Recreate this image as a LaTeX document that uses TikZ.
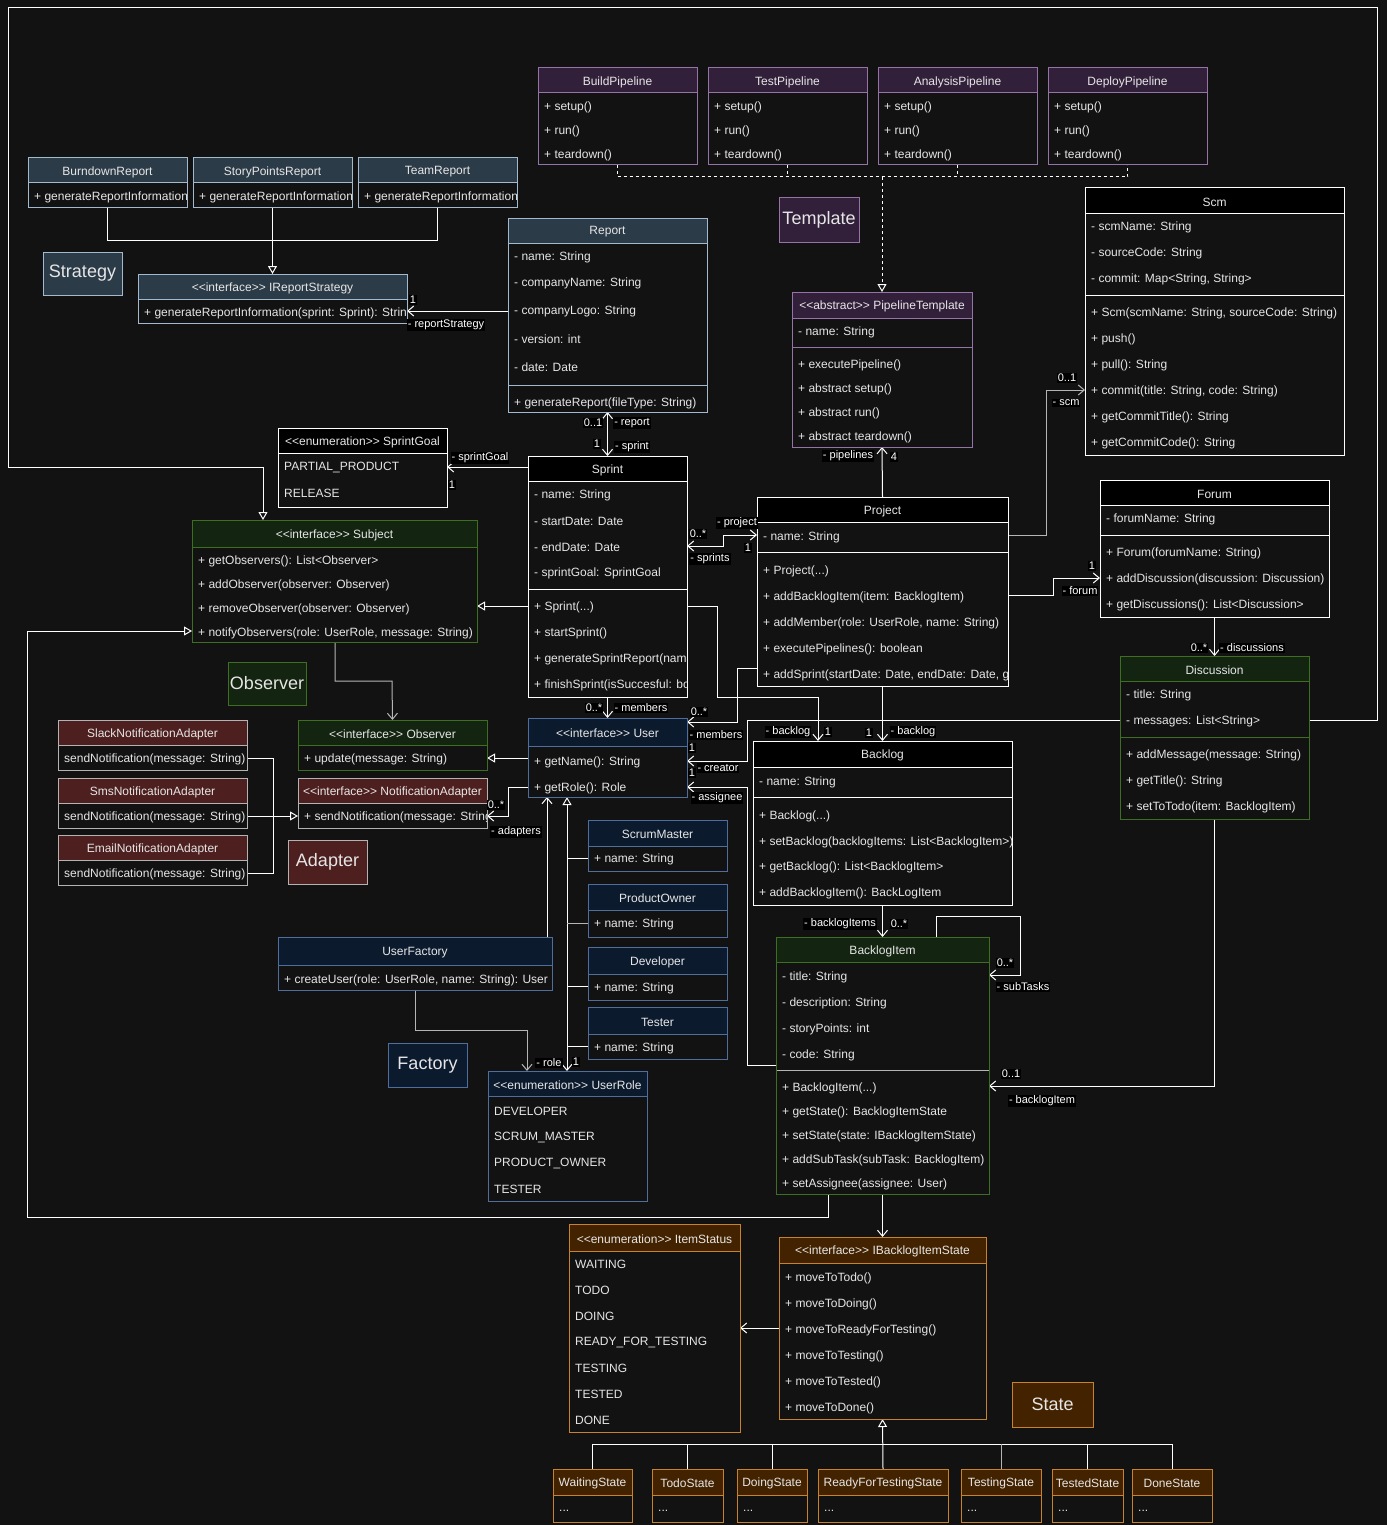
\documentclass[tikz,border=0pt]{standalone}
\usepackage{fontspec}
\setmainfont{Liberation Sans}[Ligatures=TeXOff]
\usetikzlibrary{arrows.meta}
\pgfdeclarelayer{bg}
\pgfdeclarelayer{edges}
\pgfsetlayers{bg,edges,main}
\definecolor{bgc}{HTML}{121212}
\definecolor{txt}{HTML}{E6E6E6}
\definecolor{blkH}{HTML}{000000}\definecolor{blkS}{HTML}{FFFFFF}
\definecolor{stH}{HTML}{2C3B48}\definecolor{stS}{HTML}{A3B9CE}
\definecolor{tpH}{HTML}{32203B}\definecolor{tpS}{HTML}{9673A6}
\definecolor{obH}{HTML}{132411}\definecolor{obS}{HTML}{3E6E22}
\definecolor{adH}{HTML}{4E1F1F}\definecolor{adS}{HTML}{B3B3B3}
\definecolor{faH}{HTML}{0C1A2E}\definecolor{faS}{HTML}{4F6E9C}
\definecolor{saH}{HTML}{432200}\definecolor{saS}{HTML}{C7822B}
\definecolor{gline}{HTML}{B5B5B5}
\tikzset{
 rowtext/.style={font=\fontsize{12}{14}\selectfont, text=txt, inner sep=0pt, anchor=west},
 ttl/.style={font=\fontsize{12}{14}\selectfont, text=txt, inner sep=0pt},
 lbl/.style={font=\fontsize{11}{13}\selectfont, fill=black, text=white, inner sep=1pt},
 plabel/.style={font=\fontsize{18}{20}\selectfont, text=txt, line width=1pt, inner sep=0pt},
 conn/.style={draw=white, line width=1pt},
 assoc/.style={conn, -{Straight Barb[length=6pt,width=10pt]}},
 assocb/.style={conn, {Straight Barb[length=6pt,width=10pt]}-{Straight Barb[length=6pt,width=10pt]}},
 real/.style={conn, -{Triangle[open,length=8pt,width=9pt]}},
 dsh/.style={conn, dash pattern=on 3pt off 3pt},
}
% #1 name #2 style #3 x #4 y #5 w #6 h #7 header h #8 title #9 rows
\newcommand{\ucls}[9]{%
  \def\ux{#3}\def\uw{#5}\def\usc{#2S}%
  \fill[bgc] (#3,#4) rectangle ++(#5,#6);
  \fill[fill=#2H] (#3,#4) rectangle ++(#5,#7);
  \draw[draw=#2S, line width=1pt] (#3,#4+#7) -- ++(#5,0);
  \node[ttl] at (#3+#5/2,#4+#7/2+1.5) {#8};
  \begin{scope}
    \clip (#3,#4) rectangle ++(#5,#6);
    #9
  \end{scope}
  \node[draw=#2S, line width=1pt, minimum width=#5pt, minimum height=#6pt, inner sep=0pt, outer sep=0pt, anchor=north west] (#1) at (#3,#4) {};
}
\newcommand{\urow}[2]{\node[rowtext] at (\ux+6,#1+1.5) {#2};}
\newcommand{\usep}[1]{\draw[draw=\usc, line width=1pt] (\ux,#1) -- ++(\uw,0);}
\begin{document}
\begin{tikzpicture}[x=1pt,y=-1pt]
\useasboundingbox (0,0) rectangle (1387,1525);
\begin{pgfonlayer}{bg}
\fill[bgc] (0,0) rectangle (1387,1525);
\end{pgfonlayer}

% ---------------- Template
\ucls{bp}{tp}{538}{68}{159}{97}{25}{BuildPipeline}{\urow{106}{+ setup()}\urow{130}{+ run()}\urow{154}{+ teardown()}}
\ucls{tpl}{tp}{708}{68}{159}{97}{25}{TestPipeline}{\urow{106}{+ setup()}\urow{130}{+ run()}\urow{154}{+ teardown()}}
\ucls{ap}{tp}{878}{68}{159}{97}{25}{AnalysisPipeline}{\urow{106}{+ setup()}\urow{130}{+ run()}\urow{154}{+ teardown()}}
\ucls{dp}{tp}{1048}{68}{159}{97}{25}{DeployPipeline}{\urow{106}{+ setup()}\urow{130}{+ run()}\urow{154}{+ teardown()}}
\ucls{pt}{tp}{792}{292}{180}{155}{26}{<<abstract>> PipelineTemplate}{\urow{331}{- name: String}\usep{347}\urow{364}{+ executePipeline()}\urow{388}{+ abstract setup()}\urow{412}{+ abstract run()}\urow{436}{+ abstract teardown()}}
\node[plabel, draw=tpS, fill=tpH, minimum width=80pt, minimum height=44pt] (tmplLbl) at (819,220) {Template};

% ---------------- Strategy
\ucls{burn}{st}{28}{158}{159}{49}{25}{BurndownReport}{\urow{196}{+ generateReportInformation}}
\ucls{story}{st}{193}{158}{159}{49}{25}{StoryPointsReport}{\urow{196}{+ generateReportInformation}}
\ucls{team}{st}{358}{158}{159}{49}{25}{TeamReport}{\urow{196}{+ generateReportInformation}}
\ucls{irs}{st}{138}{274}{269}{49}{25}{<<interface>> IReportStrategy}{\urow{312}{+ generateReportInformation(sprint: Sprint): String}}
\ucls{report}{st}{508}{218}{199}{194}{25}{Report}{\urow{256}{- name: String}\urow{282}{- companyName: String}\urow{310}{- companyLogo: String}\urow{338}{- version: int}\urow{366}{- date: Date}\usep{385}\urow{402}{+ generateReport(fileType: String)}}
\node[plabel, draw=stS, fill=stH, minimum width=79pt, minimum height=43pt] (stratLbl) at (82.5,273.5) {Strategy};

% ---------------- Scm / Project / Forum / Discussion
\ucls{scm}{blk}{1085}{188}{259}{267}{25}{Scm}{\urow{226}{- scmName: String}\urow{252}{- sourceCode: String}\urow{278}{- commit: Map<String, String>}\usep{295}\urow{312}{+ Scm(scmName: String, sourceCode: String)}\urow{338}{+ push()}\urow{364}{+ pull(): String}\urow{390}{+ commit(title: String, code: String)}\urow{416}{+ getCommitTitle(): String}\urow{442}{+ getCommitCode(): String}}
\ucls{project}{blk}{757}{497}{251}{189}{25}{Project}{\urow{536}{- name: String}\usep{552}\urow{570}{+ Project(...)}\urow{596}{+ addBacklogItem(item: BacklogItem)}\urow{622}{+ addMember(role: UserRole, name: String)}\urow{648}{+ executePipelines(): boolean}\urow{674}{+ addSprint(startDate: Date, endDate: Date, g}}
\ucls{forum}{blk}{1100}{480}{229}{137}{25}{Forum}{\urow{518}{- forumName: String}\usep{535}\urow{552}{+ Forum(forumName: String)}\urow{578}{+ addDiscussion(discussion: Discussion)}\urow{604}{+ getDiscussions(): List<Discussion>}}
\ucls{disc}{ob}{1120}{656}{189}{163}{25}{Discussion}{\urow{694}{- title: String}\urow{720}{- messages: List<String>}\usep{737}\urow{754}{+ addMessage(message: String)}\urow{780}{+ getTitle(): String}\urow{806}{+ setToTodo(item: BacklogItem)}}

% ---------------- Sprint
\ucls{sprint}{blk}{528}{456}{159}{241}{25}{Sprint}{\urow{494}{- name: String}\urow{520}{- startDate: Date}\urow{546}{- endDate: Date}\urow{572}{- sprintGoal: SprintGoal}\usep{589}\urow{606}{+ Sprint(...)}\urow{632}{+ startSprint()}\urow{658}{+ generateSprintReport(name}\urow{684}{+ finishSprint(isSuccesful: bo}}
\ucls{sg}{blk}{278}{428}{169}{79}{25}{<<enumeration>> SprintGoal}{\urow{466}{PARTIAL\_PRODUCT}\urow{492}{RELEASE}}

% ---------------- Observer
\ucls{subject}{ob}{192}{520}{285}{122}{27}{<<interface>> Subject}{\urow{560}{+ getObservers(): List<Observer>}\urow{584}{+ addObserver(observer: Observer)}\urow{608}{+ removeObserver(observer: Observer)}\urow{632}{+ notifyObservers(role: UserRole, message: String)}}
\ucls{observer}{ob}{298}{720}{189}{50}{25}{<<interface>> Observer}{\urow{758}{+ update(message: String)}}
\node[plabel, draw=obS, fill=obH, minimum width=78pt, minimum height=43pt] (obsLbl) at (267,683.5) {Observer};

% ---------------- Adapter
\ucls{na}{ad}{298}{778}{189}{50}{25}{<<interface>> NotificationAdapter}{\urow{816}{+ sendNotification(message: String)}}
\ucls{slack}{ad}{58}{720}{189}{50}{25}{SlackNotificationAdapter}{\urow{758}{sendNotification(message: String)}}
\ucls{sms}{ad}{58}{778}{189}{50}{25}{SmsNotificationAdapter}{\urow{816}{sendNotification(message: String)}}
\ucls{email}{ad}{58}{835}{189}{50}{25}{EmailNotificationAdapter}{\urow{873}{sendNotification(message: String)}}
\node[plabel, draw=adS, fill=adH, minimum width=79pt, minimum height=44pt] (adLbl) at (327.5,862) {Adapter};

% ---------------- Factory
\ucls{user}{fa}{528}{718}{159}{79}{28}{<<interface>> User}{\urow{761}{+ getName(): String}\urow{787}{+ getRole(): Role}}
\ucls{sm}{fa}{588}{820}{139}{51}{26}{ScrumMaster}{\urow{858}{+ name: String}}
\ucls{po}{fa}{588}{884}{139}{53}{26}{ProductOwner}{\urow{923}{+ name: String}}
\ucls{dev}{fa}{588}{947}{139}{53}{27}{Developer}{\urow{987}{+ name: String}}
\ucls{tester}{fa}{588}{1007}{139}{52}{27}{Tester}{\urow{1047}{+ name: String}}
\ucls{uf}{fa}{278}{937}{274}{53}{28}{UserFactory}{\urow{979}{+ createUser(role: UserRole, name: String): User}}
\ucls{ur}{fa}{488}{1071}{159}{130}{25}{<<enumeration>> UserRole}{\urow{1110}{DEVELOPER}\urow{1136}{SCRUM\_MASTER}\urow{1162}{PRODUCT\_OWNER}\urow{1188}{TESTER}}
\node[plabel, draw=faS, fill=faH, minimum width=79pt, minimum height=44pt] (faLbl) at (427.5,1065) {Factory};

% ---------------- Backlog
\ucls{backlog}{blk}{753}{741}{259}{164}{26}{Backlog}{\urow{781}{- name: String}\usep{797}\urow{815}{+ Backlog(...)}\urow{841}{+ setBacklog(backlogItems: List<BacklogItem>)}\urow{866}{+ getBacklog(): List<BacklogItem>}\urow{892}{+ addBacklogItem(): BackLogItem}}
\ucls{bi}{ob}{776}{937}{213}{257}{25}{BacklogItem}{\urow{976}{- title: String}\urow{1002}{- description: String}\urow{1028}{- storyPoints: int}\urow{1054}{- code: String}\draw[draw=gline, line width=1pt] (776,1070) -- ++(213,0);\urow{1087}{+ BacklogItem(...)}\urow{1111}{+ getState(): BacklogItemState}\urow{1135}{+ setState(state: IBacklogItemState)}\urow{1159}{+ addSubTask(subTask: BacklogItem)}\urow{1183}{+ setAssignee(assignee: User)}}

% ---------------- State
\ucls{is}{sa}{569}{1224}{171}{208}{27}{<<enumeration>> ItemStatus}{\urow{1263}{WAITING}\urow{1289}{TODO}\urow{1315}{DOING}\urow{1341}{READY\_FOR\_TESTING}\urow{1367}{TESTING}\urow{1393}{TESTED}\urow{1419}{DONE}}
\ucls{ibs}{sa}{779}{1237}{207}{182}{26}{<<interface>> IBacklogItemState}{\urow{1277}{+ moveToTodo()}\urow{1303}{+ moveToDoing()}\urow{1329}{+ moveToReadyForTesting()}\urow{1355}{+ moveToTesting()}\urow{1381}{+ moveToTested()}\urow{1407}{+ moveToDone()}}
\ucls{ws}{sa}{553}{1469}{79}{53}{26}{WaitingState}{\urow{1509}{...}}
\ucls{tds1}{sa}{652}{1469}{71}{53}{26}{TodoState}{\urow{1509}{...}}
\ucls{dgs}{sa}{737}{1469}{70}{53}{26}{DoingState}{\urow{1509}{...}}
\ucls{rfs}{sa}{818}{1469}{130}{53}{26}{ReadyForTestingState}{\urow{1509}{...}}
\ucls{tgs}{sa}{961}{1469}{80}{53}{26}{TestingState}{\urow{1509}{...}}
\ucls{tes}{sa}{1052}{1469}{71}{53}{26}{TestedState}{\urow{1509}{...}}
\ucls{dns}{sa}{1132}{1469}{80}{53}{26}{DoneState}{\urow{1509}{...}}
\node[plabel, draw=saS, fill=saH, minimum width=81pt, minimum height=45pt] (saLbl) at (1052.5,1404.5) {State};

% ================= connectors
\begin{pgfonlayer}{edges}
% template
\draw[dsh] (bp.south) -- ++(0,12) -| (dp.south);
\draw[dsh] (tpl.south) -- ++(0,12);
\draw[dsh] (ap.south) -- ++(0,12);
\draw[dsh, -{Triangle[open,length=8pt,width=9pt]}] (pt.north |- 0,177) -- (pt.north);
% strategy
\draw[conn] (burn.south) -- ++(0,33) -| (team.south);
\draw[real] (story.south) -- (irs.north);
\draw[assoc] (report.west |- 0,311) -- (irs.east |- 0,311);
\draw[assocb] (report.south) -- (sprint.north);
% sprint
\draw[assoc] (sprint.west |- 0,467) -- (sg.east |- 0,467);
\draw[real] (sprint.west |- 0,606) -- (subject.east |- 0,606);
\draw[assocb] (sprint.east |- 0,546) -- (723,546) -- (723,535) -- (project.west |- 0,535);
\draw[assoc] (sprint.east |- 0,606) -- (717,606) -- (717,697) -- (818,697) -- (818,697 |- backlog.north);
\draw[assoc] (sprint.south) -- (user.north);
% project
\draw[assoc] (project.north) -- (pt.south);
\draw[assoc, draw=gline] (project.east |- 0,535) -- (1046,535) -- (1046,390) -- (scm.west |- 0,390);
\draw[assoc] (project.east |- 0,595) -- (1053,595) -- (1053,578) -- (forum.west |- 0,578);
\draw[assoc] (project.west |- 0,668) -- (737,668) -- (737,722) -- (user.east |- 0,722);
\draw[assoc] (project.south) -- (project.south |- backlog.north);
% forum / discussion
\draw[assoc] (forum.south) -- (disc.north);
\draw[assoc] (disc.south) -- (disc.south |- 0,1086) -- (bi.east |- 0,1086);
\draw[assoc] (disc.west |- 0,720) -- (747,720) -- (747,761) -- (user.east |- 0,761);
\draw[assoc] (bi.west |- 0,1065) -- (747,1065) -- (747,787) -- (user.east |- 0,787);
\draw[real] (disc.east |- 0,720) -- (1377,720) -- (1377,8) -- (8,8) -- (8,467) -- (263,467) -- (263,467 |- subject.north);
\draw[real] (bi.south -| 828,0) -- (828,1217) -- (27,1217) -- (27,631) -- (subject.west |- 0,631);
% backlog
\draw[assoc] (backlog.south) -- (backlog.south |- bi.north);
\draw[assoc] (bi.north -| 936,0) -- (936,916) -- (1020,916) -- (1020,975) -- (bi.east |- 0,975);
\draw[assoc] (bi.south) -- (ibs.north);
\draw[assoc] (ibs.west |- 0,1328) -- (is.east |- 0,1328);
% states
\draw[conn] (ws.north) -- (ws.north |- 0,1444) -- (dns.north |- 0,1444) -- (dns.north);
\draw[conn] (tds1.north) -- (tds1.north |- 0,1444);
\draw[conn] (dgs.north) -- (dgs.north |- 0,1444);
\draw[conn, draw=gline] (tgs.north) -- (tgs.north |- 0,1444);
\draw[conn] (tes.north) -- (tes.north |- 0,1444);
\draw[real] (rfs.north) -- (ibs.south);
% observer
\draw[assoc, draw=gline] (subject.south -| 335,0) -- (335,681) -- (392,681) -- (observer.north);
\draw[real] (user.west |- 0,758) -- (observer.east |- 0,758);
\draw[assoc] (user.west |- 0,787) -- (508,787) -- (508,816) -- (na.east |- 0,816);
% adapter
\draw[conn] (slack.east |- 0,758) -- (273,758) -- (273,873) -- (email.east |- 0,873);
\draw[real] (sms.east |- 0,816) -- (na.west |- 0,816);
% factory
\draw[assoc] (uf.north -| 547,0) -- (547,0 |- user.south);
\draw[assoc, draw=gline] (uf.south -| 415,0) -- (415,1030) -- (527,1030) -- (527,0 |- ur.north);
\draw[conn, {Straight Barb[length=6pt,width=10pt]}-{Triangle[open,length=8pt,width=9pt]}] (ur.north -| 567,0) -- (user.south -| 567,0);
\draw[conn] (sm.west |- 0,858) -- (567,858);
\draw[conn, draw=gline] (po.west |- 0,923) -- (567,923);
\draw[conn] (dev.west |- 0,986) -- (567,986);
\draw[conn] (tester.west |- 0,1046) -- (567,1046);
\end{pgfonlayer}

% ================= labels
\node[lbl] (l1) at (413,300) {1};
\node[lbl] (l2) at (446,325) {- reportStrategy};
\node[lbl] (l3) at (593,423) {0..1};
\node[lbl] (l4) at (632,423) {- report};
\node[lbl] (l5) at (597,444) {1};
\node[lbl] (l6) at (632,447) {- sprint};
\node[lbl] (l7) at (480,458) {- sprintGoal};
\node[lbl] (l8) at (452,485) {1};
\node[lbl] (l9) at (848,456) {- pipelines};
\node[lbl] (l10) at (894,457) {4};
\node[lbl] (l11) at (1067,378) {0..1};
\node[lbl] (l12) at (1066,403) {- scm};
\node[lbl] (l13) at (1092,566) {1};
\node[lbl] (l14) at (1080,591) {- forum};
\node[lbl] (l15) at (1199,648) {0..*};
\node[lbl] (l16) at (1252,648) {- discussions};
\node[lbl] (l17) at (737,523) {- project};
\node[lbl] (l18) at (698,534) {0..*};
\node[lbl] (l19) at (748,548) {1};
\node[lbl] (l20) at (710,559) {- sprints};
\node[lbl] (l21) at (594,708) {0..*};
\node[lbl] (l22) at (641,708) {- members};
\node[lbl] (l23) at (699,712) {0..*};
\node[lbl] (l24) at (716,735) {- members};
\node[lbl] (l25) at (692,748) {1};
\node[lbl] (l26) at (718,768) {- creator};
\node[lbl] (l27) at (692,773) {1};
\node[lbl] (l28) at (717,798) {- assignee};
\node[lbl] (l29) at (788,732) {- backlog};
\node[lbl] (l30) at (828,732) {1};
\node[lbl] (l31) at (869,733) {1};
\node[lbl] (l32) at (913,732) {- backlog};
\node[lbl] (l33) at (840,924) {- backlogItems};
\node[lbl] (l34) at (899,924) {0..*};
\node[lbl] (l35) at (1005,963) {0..*};
\node[lbl] (l36) at (1023,987) {- subTasks};
\node[lbl] (l37) at (1011,1074) {0..1};
\node[lbl] (l38) at (1042,1101) {- backlogItem};
\node[lbl] (l39) at (496,805) {0..*};
\node[lbl] (l40) at (516,832) {- adapters};
\node[lbl] (l41) at (549,1063) {- role};
\node[lbl] (l42) at (576,1062) {1};
\end{tikzpicture}
\end{document}
